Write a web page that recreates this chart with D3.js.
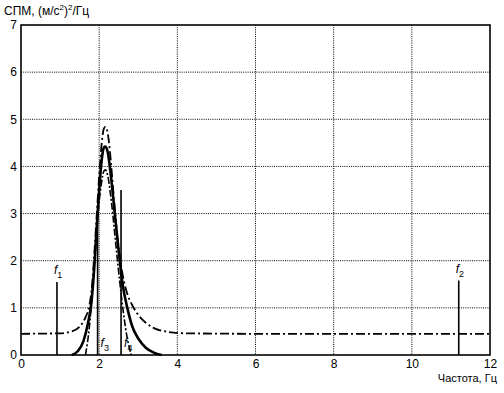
<!DOCTYPE html>
<html>
<head>
<meta charset="utf-8">
<script src="https://cdn.jsdelivr.net/npm/d3@7"></script>
<style>
  body { margin: 0; background: #fff; }
  svg { font-family: "Liberation Sans", Arial, sans-serif; }
  .tick text { font-size: 12px; fill: #000; }
  .grid line { stroke: #000; stroke-width: 1; stroke-dasharray: 1,1.2; }
</style>
</head>
<body>
<div class="chart"></div>
<script>
// frequency ticks and spd ticks
const xTicks = [0, 2, 4, 6, 8, 10, 12];
const yTicks = [0, 1, 2, 3, 4, 5, 6, 7];

// upper dash-dot curve (with 0.45 floor)
const upperCurve = [[0,0.45],[1.0,0.46],[1.3,0.5],[1.5,0.6],[1.65,0.8],[1.75,1.05],[1.82,1.5],[1.88,2.2],
  [1.94,3.0],[2.0,3.8],[2.06,4.45],[2.12,4.8],[2.16,4.84],[2.2,4.78],[2.26,4.45],[2.33,3.8],[2.4,3.1],
  [2.48,2.4],[2.58,1.8],[2.7,1.35],[2.85,1.05],[3.0,0.85],[3.2,0.68],[3.4,0.57],[3.7,0.5],[4.2,0.46],
  [6,0.45],[12,0.45]];
// solid thick curve
const mainCurve = [[1.3,0],[1.45,0.08],[1.6,0.3],[1.72,0.7],[1.8,1.1],[1.87,1.8],[1.93,2.6],[2.0,3.5],
  [2.06,4.1],[2.12,4.4],[2.16,4.42],[2.22,4.3],[2.3,3.8],[2.4,3.0],[2.5,2.2],[2.6,1.5],[2.72,1.0],
  [2.85,0.6],[3.0,0.35],[3.2,0.15],[3.4,0.05],[3.6,0]];
// lower dashed curve
const lowerCurve = [[1.65,0],[1.75,0.6],[1.85,1.6],[1.95,2.8],[2.05,3.6],[2.12,3.9],[2.16,3.93],
  [2.22,3.8],[2.32,3.2],[2.42,2.4],[2.52,1.6],[2.62,0.9],[2.72,0.35],[2.82,0]];

// marker frequencies f1..f4 and their heights
const markerNames = ['1', '2', '3', '4'];
const markerFreq = [0.92, 11.2, 1.96, 2.56];
const markerHeight = [1.55, 1.58, 3.0, 3.5];

const width = 504, height = 393;
const mLeft = 21, mRight = 490, mTop = 25, mBottom = 355;

const svg = d3.select('.chart').append('svg')
  .attr('width', width)
  .attr('height', height);

const x = d3.scaleLinear().domain([0, 12]).range([mLeft, mRight]);
const y = d3.scaleLinear().domain([0, 7]).range([mBottom, mTop]);

// grid
svg.append('g').attr('class', 'grid')
  .selectAll('line.v')
  .data(xTicks.slice(1, -1))
  .enter().append('line')
    .attr('x1', d => x(d)).attr('x2', d => x(d))
    .attr('y1', mTop).attr('y2', mBottom);
svg.append('g').attr('class', 'grid')
  .selectAll('line.h')
  .data(yTicks.slice(1, -1))
  .enter().append('line')
    .attr('x1', mLeft).attr('x2', mRight)
    .attr('y1', d => y(d)).attr('y2', d => y(d));

// axes (labels only, frame drawn separately)
svg.append('g')
  .attr('transform', `translate(0,${mBottom})`)
  .call(d3.axisBottom(x).tickValues(xTicks).tickSize(0).tickPadding(4).tickFormat(d3.format('d')))
  .call(g => g.select('.domain').remove());
svg.append('g')
  .attr('transform', `translate(${mLeft},0)`)
  .call(d3.axisLeft(y).tickValues(yTicks).tickSize(0).tickPadding(4).tickFormat(d3.format('d')))
  .call(g => g.select('.domain').remove());

svg.append('rect')
  .attr('x', mLeft).attr('y', mTop)
  .attr('width', mRight - mLeft).attr('height', mBottom - mTop)
  .attr('fill', 'none').attr('stroke', '#000').attr('stroke-width', 1.6);

const line = d3.line().x(d => x(d[0])).y(d => y(d[1])).curve(d3.curveMonotoneX);

svg.append('path').datum(upperCurve)
  .attr('d', line).attr('fill', 'none').attr('stroke', '#000')
  .attr('stroke-width', 1.8).attr('stroke-dasharray', '9,3,2,3');
svg.append('path').datum(lowerCurve)
  .attr('d', line).attr('fill', 'none').attr('stroke', '#000')
  .attr('stroke-width', 1.6).attr('stroke-dasharray', '7,2,2,2');
svg.append('path').datum(mainCurve)
  .attr('d', line).attr('fill', 'none').attr('stroke', '#000')
  .attr('stroke-width', 2.6);

// f markers
svg.selectAll('line.marker')
  .data(markerFreq)
  .enter().append('line')
    .attr('x1', d => x(d)).attr('x2', d => x(d))
    .attr('y1', y(0)).attr('y2', (d, i) => y(markerHeight[i]))
    .attr('stroke', '#000').attr('stroke-width', 1.6);

const labelPos = [[-3, -8], [-3, -8], [3, 0], [3, 0]];
const fLabels = svg.selectAll('text.flabel')
  .data(markerNames)
  .enter().append('text')
    .attr('class', 'flabel')
    .attr('font-size', 12)
    .attr('x', (d, i) => x(markerFreq[i]) + labelPos[i][0])
    .attr('y', (d, i) => i < 2 ? y(markerHeight[i]) + labelPos[i][1] : mBottom - 8);
fLabels.append('tspan').attr('font-style', 'italic').text('f');
fLabels.append('tspan').attr('font-size', 9).attr('dy', 4).text(d => d);

// axis titles
const yt = svg.append('text').attr('x', 4).attr('y', 15).attr('font-size', 12);
yt.append('tspan').text('СПМ, (м/с');
yt.append('tspan').attr('font-size', 8).attr('dy', -5).text('2');
yt.append('tspan').attr('dy', 5).text(')');
yt.append('tspan').attr('font-size', 8).attr('dy', -5).text('2');
yt.append('tspan').attr('dy', 5).text('/Гц');

svg.append('text')
  .attr('x', 497).attr('y', 382)
  .attr('text-anchor', 'end').attr('font-size', 11)
  .text('Частота, Гц');
</script>
</body>
</html>
